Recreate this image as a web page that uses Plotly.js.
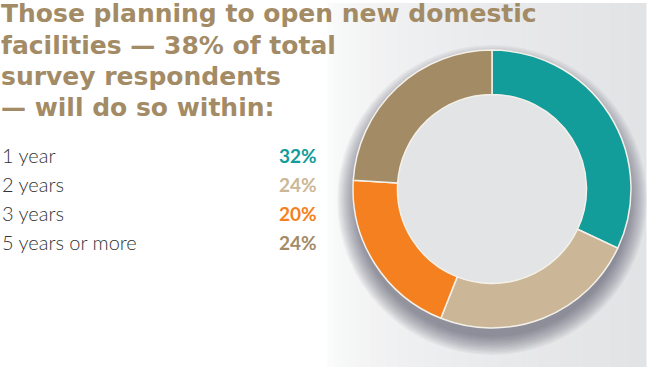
<!DOCTYPE html>
<html>
<head>
<meta charset="utf-8">
<script src="https://cdn.plot.ly/plotly-3.0.1.min.js"></script>
<style>html,body{margin:0;padding:0;background:#fff}#chart{width:650px;height:371px}</style>
</head>
<body>
<div id="chart"></div>
<script>
// ---- data ----
var categories = ["1 year", "2 years", "3 years", "5 years or more"];
var values = [32, 24, 20, 24];
var valueLabels = ["32%", "24%", "20%", "24%"];
var titleLines = ["Those planning to open new domestic", "facilities \u2014 38% of total", "survey respondents", "\u2014 will do so within:"];

// ---- styles ----
var sliceColors = ["#129c9a", "#cbb797", "#f58020", "#a38b66"];
var titleColor = "#a38b66";
var W = 650, H = 371;
function px(x) { return x / W; }
function py(y) { return 1 - y / H; }

var shapes = [];
// gradient panel
var p0 = 322, p1 = 646, N = 60;
for (var i = 0; i < N; i++) {
  var t = i / (N - 1);
  var e = Math.pow(t, 0.45);
  var c0 = [255, 255, 255], c1 = [226, 227, 229];
  var c = c0.map(function (v, k) { return Math.round(v + (c1[k] - v) * e); });
  shapes.push({type: "rect", xref: "paper", yref: "paper", layer: "below",
    x0: px(p0 + (p1 - p0) * i / N), x1: px(p0 + (p1 - p0) * (i + 1) / N + 0.5),
    y0: py(367), y1: py(3), line: {width: 0}, fillcolor: "rgb(" + c.join(",") + ")"});
}
// shadow under donut
var cx = 492, cy = 189, R = 139;
for (var j = 0; j < 14; j++) {
  var rr = R + 16 - j * 1.4;
  shapes.push({type: "circle", xref: "paper", yref: "paper", layer: "below",
    x0: px(cx - rr), x1: px(cx + rr), y0: py(cy + 11 + rr), y1: py(cy + 11 - rr),
    line: {width: 0}, fillcolor: "rgba(50,50,60,0.045)"});
}

var annotations = [];
var titleY = [14, 45, 76, 107];
titleLines.forEach(function (s, i) {
  annotations.push({text: "<b>" + s + "</b>", xref: "paper", yref: "paper", x: px(-1), y: py(titleY[i]),
    xanchor: "left", yanchor: "middle", showarrow: false,
    font: {family: "DejaVu Sans, sans-serif", size: 25, color: titleColor}});
});
var rowY = [155, 184, 213, 242];
categories.forEach(function (s, i) {
  annotations.push({text: s, xref: "paper", yref: "paper", x: px(0), y: py(rowY[i]),
    xanchor: "left", yanchor: "middle", showarrow: false,
    font: {family: "Lato, sans-serif", size: 20, weight: 300, color: "#333333"}});
  annotations.push({text: "<b>" + valueLabels[i] + "</b>", xref: "paper", yref: "paper", x: px(319), y: py(rowY[i]),
    xanchor: "right", yanchor: "middle", showarrow: false,
    font: {family: "Lato, sans-serif", size: 19, color: sliceColors[i]}});
});
// hole fill
shapes.push({type: "circle", xref: "paper", yref: "paper", layer: "below",
  x0: px(cx - 96), x1: px(cx + 96), y0: py(cy + 96), y1: py(cy - 96),
  line: {width: 0}, fillcolor: "#e3e4e6"});

var trace = {
  type: "pie", labels: categories, values: values, sort: false, direction: "clockwise", rotation: 0,
  hole: 0.68, textinfo: "none", hoverinfo: "none",
  marker: {colors: sliceColors, line: {color: "#f4f1ea", width: 1.5}},
  domain: {x: [px(cx - R), px(cx + R)], y: [py(cy + R), py(cy - R)]},
  showlegend: false
};

Plotly.newPlot("chart", [trace], {
  width: W, height: H, margin: {l: 0, r: 0, t: 0, b: 0},
  paper_bgcolor: "#ffffff", plot_bgcolor: "rgba(0,0,0,0)",
  showlegend: false, shapes: shapes, annotations: annotations
}, {displayModeBar: false, staticPlot: true});
</script>
</body>
</html>
